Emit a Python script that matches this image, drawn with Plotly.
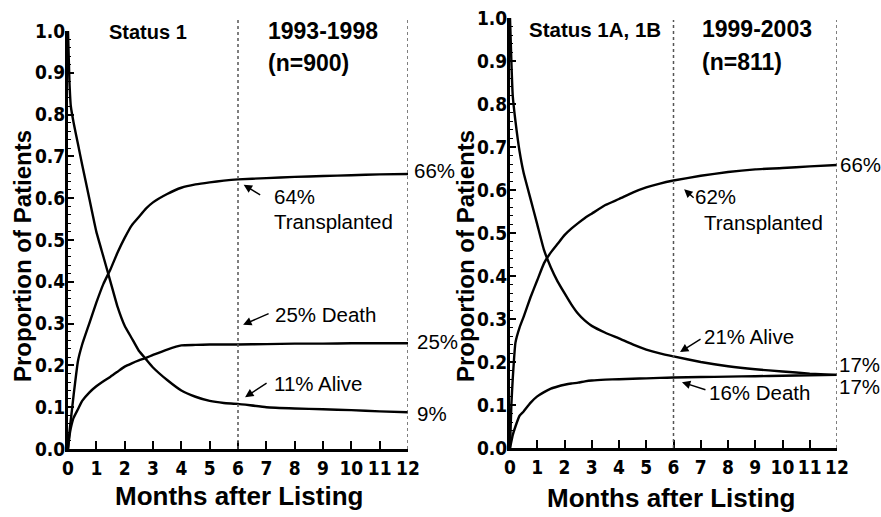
import plotly.graph_objects as go
from plotly.subplots import make_subplots

W, H = 881, 517

# ---------------- data ----------------
months = [0, 0.05, 0.1, 0.2, 0.35, 0.5, 0.75, 1.0, 1.25, 1.5, 1.75, 2.0, 2.25, 2.5, 2.75,
          3.0, 3.5, 4.0, 4.5, 5.0, 5.5, 6.0, 7, 8, 9, 10, 11, 12]

# Status 1, 1993-1998 (n=900)
alive_1 = [1.0, 0.88, 0.82, 0.78, 0.73, 0.68, 0.60, 0.52, 0.46, 0.40, 0.34, 0.295, 0.265, 0.235, 0.215,
           0.195, 0.165, 0.14, 0.125, 0.115, 0.11, 0.108, 0.10, 0.097, 0.095, 0.093, 0.09, 0.088]
death_1 = [0, 0.03, 0.05, 0.075, 0.095, 0.115, 0.135, 0.15, 0.162, 0.173, 0.185, 0.197, 0.205, 0.212, 0.218,
           0.225, 0.238, 0.248, 0.249, 0.25, 0.25, 0.25, 0.251, 0.252, 0.252, 0.253, 0.253, 0.253]
trans_1 = [0, 0.04, 0.07, 0.13, 0.21, 0.25, 0.30, 0.35, 0.395, 0.43, 0.47, 0.505, 0.535, 0.555, 0.575,
           0.59, 0.61, 0.625, 0.633, 0.638, 0.642, 0.645, 0.648, 0.651, 0.653, 0.655, 0.657, 0.658]

# Status 1A, 1B, 1999-2003 (n=811)
alive_2 = [1.0, 0.90, 0.82, 0.76, 0.69, 0.64, 0.58, 0.52, 0.46, 0.42, 0.387, 0.36, 0.334, 0.312, 0.296,
           0.284, 0.268, 0.255, 0.241, 0.229, 0.22, 0.213, 0.20, 0.19, 0.183, 0.178, 0.173, 0.17]
death_2 = [0, 0.015, 0.03, 0.05, 0.075, 0.085, 0.105, 0.12, 0.13, 0.138, 0.143, 0.147, 0.15, 0.152, 0.155,
           0.157, 0.159, 0.16, 0.161, 0.162, 0.163, 0.164, 0.165, 0.166, 0.167, 0.168, 0.169, 0.17]
trans_2 = [0, 0.10, 0.16, 0.245, 0.28, 0.305, 0.35, 0.39, 0.43, 0.455, 0.475, 0.495, 0.51, 0.523, 0.535,
           0.545, 0.565, 0.579, 0.594, 0.606, 0.615, 0.622, 0.633, 0.642, 0.648, 0.651, 0.655, 0.658]

x_ticks = list(range(0, 13))
y_ticks = [round(0.1 * i, 1) for i in range(11)]
y_tick_labels = [f"{v:.1f}" for v in y_ticks]

# ---------------- figure ----------------
fig = make_subplots(rows=1, cols=2)

for col, series in ((1, (alive_1, death_1, trans_1)), (2, (alive_2, death_2, trans_2))):
    for s in series:
        fig.add_trace(go.Scatter(x=months, y=s, mode="lines",
                                 line=dict(color="black", width=2.4, shape="spline", smoothing=0.4),
                                 showlegend=False, hoverinfo="skip"), row=1, col=col)


def px(x):
    return x / W


def py(y):
    return 1 - y / H


tick_font = dict(family="DejaVu Sans Condensed, Liberation Sans, sans-serif",
                 size=19, color="black", weight="bold")

x_domains = [[px(68), px(408)], [px(510), px(837)]]
y_domains = [[py(449), py(31)], [py(448), py(18)]]

for i in range(2):
    xa = "xaxis" if i == 0 else "xaxis2"
    ya = "yaxis" if i == 0 else "yaxis2"
    fig.layout[xa].update(domain=x_domains[i], range=[0, 12], tickvals=x_ticks,
                          ticktext=[str(t) for t in x_ticks], tickangle=0,
                          showline=True, linecolor="black", linewidth=3,
                          ticks="inside", ticklen=8, tickwidth=2, tickcolor="black",
                          showgrid=False, zeroline=False, tickfont=tick_font,
                          automargin=False,
                          anchor="y" if i == 0 else "y2", fixedrange=True)
    fig.layout[ya].update(domain=y_domains[i], range=[0, 1.0], tickvals=y_ticks,
                          ticktext=y_tick_labels,
                          showline=True, linecolor="black", linewidth=3,
                          ticks="inside", ticklen=6, tickwidth=2, tickcolor="black",
                          minor=dict(ticks="inside", dtick=0.02, ticklen=3, tickwidth=1, tickcolor="black"),
                          showgrid=False, zeroline=False, tickfont=tick_font,
                          ticklabelstandoff=-4, automargin=False,
                          anchor="x" if i == 0 else "x2", fixedrange=True)

# dotted vertical lines at 6 and 12 months
shapes = []
for xr, yd in (("x", y_domains[0]), ("x2", y_domains[1])):
    for xv in (6, 12):
        shapes.append(dict(type="line", xref=xr, yref="paper", x0=xv, x1=xv,
                           y0=yd[0], y1=py(20),
                           line=dict(color="#555555", width=1.5, dash="dot")))
fig.update_layout(shapes=shapes)

ann = []
txt_font = "Liberation Sans, Arial, sans-serif"


def label(text, x, y, size=20.5, bold=False, xanchor="left"):
    ann.append(dict(text=text, x=px(x), y=py(y), xref="paper", yref="paper",
                    xanchor=xanchor, yanchor="middle", showarrow=False,
                    font=dict(family=txt_font, size=size, color="black",
                              weight="bold" if bold else "normal")))


def arrow(xr, yr, x, y, ax, ay):
    ann.append(dict(text="", x=x, y=y, xref=xr, yref=yr, ax=ax, ay=ay,
                    showarrow=True, arrowhead=2, arrowsize=1.2, arrowwidth=1.4,
                    arrowcolor="black"))


# Left panel titles
label("Status 1", 107, 32, size=20, bold=True)
label("1993-1998", 266, 31, size=23, bold=True)
label("(n=900)", 266, 63, size=23, bold=True)
# Right panel titles
label("Status 1A, 1B", 527, 29, size=20.5, bold=True)
label("1999-2003", 700, 29, size=23, bold=True)
label("(n=811)", 700, 62, size=23, bold=True)

# Left annotations
label("64%", 272, 196)
label("Transplanted", 272, 221)
arrow("x", "y", 6.2, 0.632, 18, 11)
label("25% Death", 273, 314)
arrow("x", "y", 6.18, 0.297, 27, -12)
label("11% Alive", 272, 383)
arrow("x", "y", 6.25, 0.124, 23, -15)
label("66%", 412, 171)
label("25%", 415, 341)
label("9%", 415, 413)

# Right annotations
label("62%", 693, 196)
label("Transplanted", 702, 222)
arrow("x2", "y2", 6.39, 0.602, 11, 10)
label("21% Alive", 702, 336)
arrow("x2", "y2", 6.24, 0.223, 22, -14)
label("16% Death", 707, 392)
arrow("x2", "y2", 6.31, 0.153, 25, 8)
label("66%", 838, 164)
label("17%", 837, 364)
label("17%", 837, 386)

# Axis titles as annotations
for xc in (23, 466):
    ann.append(dict(text="Proportion of Patients", x=px(xc), y=py(256), xref="paper", yref="paper",
                    xanchor="center", yanchor="middle", textangle=-90, showarrow=False,
                    font=dict(family=txt_font, size=24, color="black", weight="bold")))
for xc, yc in ((239, 496), (671, 498)):
    ann.append(dict(text="Months after Listing", x=px(xc), y=py(yc), xref="paper", yref="paper",
                    xanchor="center", yanchor="middle", showarrow=False,
                    font=dict(family=txt_font, size=26, color="black", weight="bold")))

fig.update_layout(annotations=ann, width=W, height=H,
                  margin=dict(l=0, r=0, t=0, b=0, autoexpand=False),
                  paper_bgcolor="white", plot_bgcolor="white",
                  showlegend=False)

fig.write_html("out.html", config={"displayModeBar": False},
               post_script="document.body.style.margin='0';document.body.style.overflow='hidden';")
